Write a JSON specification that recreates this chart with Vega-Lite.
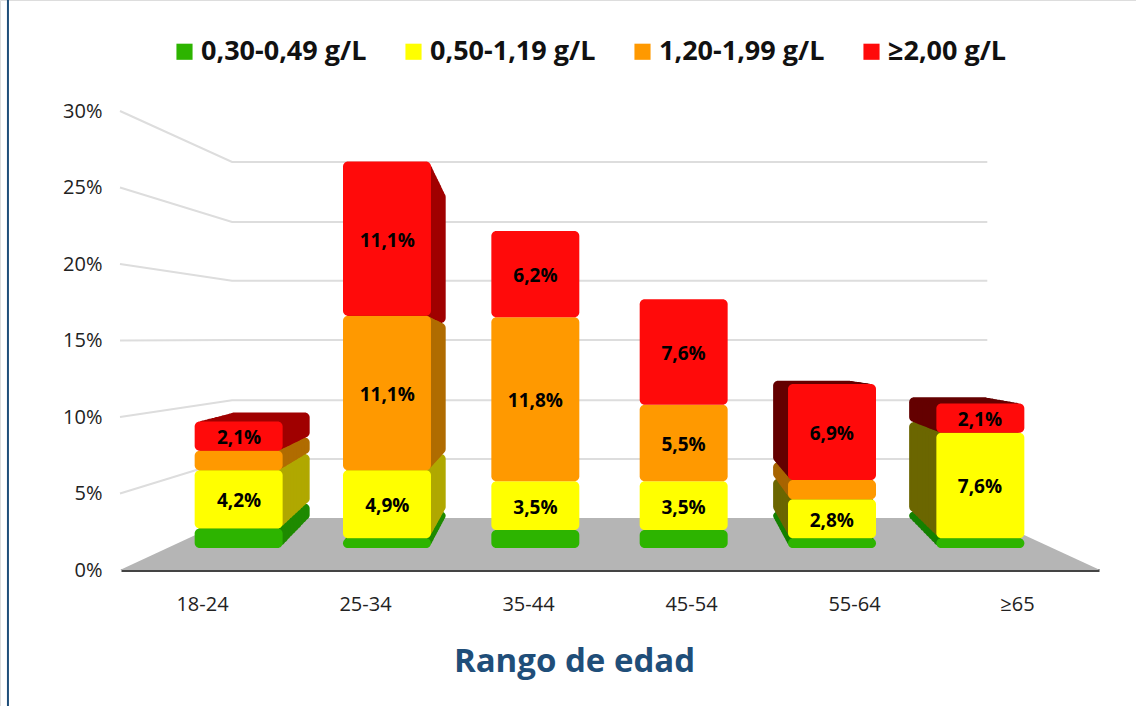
{
"$schema":"https://vega.github.io/schema/vega-lite/v6.json",
"width":1136,"height":706,"autosize":"none","padding":0,"background":"white",
"data":{"name":"bars","values":[
{"age":"18-24","range":"0,30-0,49 g/L","idx":1,"value":1.4,"side":"right"},
{"age":"18-24","range":"0,50-1,19 g/L","idx":2,"value":4.2,"side":"right"},
{"age":"18-24","range":"1,20-1,99 g/L","idx":3,"value":1.4,"side":"right"},
{"age":"18-24","range":"≥2,00 g/L","idx":4,"value":2.1,"side":"right"},
{"age":"25-34","range":"0,30-0,49 g/L","idx":1,"value":0.7,"side":"right"},
{"age":"25-34","range":"0,50-1,19 g/L","idx":2,"value":4.9,"side":"right"},
{"age":"25-34","range":"1,20-1,99 g/L","idx":3,"value":11.1,"side":"right"},
{"age":"25-34","range":"≥2,00 g/L","idx":4,"value":11.1,"side":"right"},
{"age":"35-44","range":"0,30-0,49 g/L","idx":1,"value":1.3,"side":"none"},
{"age":"35-44","range":"0,50-1,19 g/L","idx":2,"value":3.5,"side":"none"},
{"age":"35-44","range":"1,20-1,99 g/L","idx":3,"value":11.8,"side":"none"},
{"age":"35-44","range":"≥2,00 g/L","idx":4,"value":6.2,"side":"none"},
{"age":"45-54","range":"0,30-0,49 g/L","idx":1,"value":1.3,"side":"none"},
{"age":"45-54","range":"0,50-1,19 g/L","idx":2,"value":3.5,"side":"none"},
{"age":"45-54","range":"1,20-1,99 g/L","idx":3,"value":5.5,"side":"none"},
{"age":"45-54","range":"≥2,00 g/L","idx":4,"value":7.6,"side":"none"},
{"age":"55-64","range":"0,30-0,49 g/L","idx":1,"value":0.7,"side":"left"},
{"age":"55-64","range":"0,50-1,19 g/L","idx":2,"value":2.8,"side":"left"},
{"age":"55-64","range":"1,20-1,99 g/L","idx":3,"value":1.4,"side":"left"},
{"age":"55-64","range":"≥2,00 g/L","idx":4,"value":6.9,"side":"left"},
{"age":"≥65","range":"0,30-0,49 g/L","idx":1,"value":0.7,"side":"left"},
{"age":"≥65","range":"0,50-1,19 g/L","idx":2,"value":7.6,"side":"left"},
{"age":"≥65","range":"≥2,00 g/L","idx":4,"value":2.1,"side":"left"}
]},
"transform":[
 {"stack":"value","groupby":["age"],"sort":[{"field":"idx"}],"as":["y0","y1"]},
 {"calculate":"(datum.y0+datum.y1)/2","as":"mid"},
 {"calculate":"datum.range+'|'+datum.side","as":"key"}
],
"datasets":{
"floor":[{"pos":0,"v":0},{"pos":0.686,"v":3.4},{"pos":5.31,"v":3.4},{"pos":6,"v":0}],
"walls":[
{"p":30,"pos":0,"v":30},{"p":30,"pos":0.686,"v":26.67},{"p":30,"pos":5.31,"v":26.67},
{"p":25,"pos":0,"v":25},{"p":25,"pos":0.686,"v":22.75},{"p":25,"pos":5.31,"v":22.75},
{"p":20,"pos":0,"v":20},{"p":20,"pos":0.686,"v":18.9},{"p":20,"pos":5.31,"v":18.9},
{"p":15,"pos":0,"v":15},{"p":15,"pos":0.686,"v":15.03},{"p":15,"pos":5.31,"v":15.03},
{"p":10,"pos":0,"v":10},{"p":10,"pos":0.686,"v":11.1},{"p":10,"pos":5.31,"v":11.1},
{"p":5,"pos":0,"v":5},{"p":5,"pos":0.686,"v":7.25},{"p":5,"pos":5.31,"v":7.25}
]
},
"resolve":{"scale":{"x":"independent","y":"independent"},"axis":{"x":"independent","y":"independent"}},
"layer":[
{"data":{"name":"floor"},"mark":{"type":"area","color":"#B5B5B5"},
 "encoding":{"x":{"field":"pos","type":"quantitative","axis":null,"scale":{"domain":[0,6],"range":[120,1100]}},
 "y":{"field":"v","type":"quantitative","axis":null,"stack":null,"scale":{"domain":[0,30],"range":[570,111]}},"y2":{"datum":0}}},
{"data":{"name":"walls"},"mark":{"type":"line","color":"#DDDDDD","strokeWidth":2},
 "encoding":{"x":{"field":"pos","type":"quantitative","axis":null,"scale":{"domain":[0,6],"range":[120,1100]}},
 "y":{"field":"v","type":"quantitative","axis":null,"scale":{"domain":[0,30],"range":[570,111]}},"detail":{"field":"p"}}},
{"data":{"values":[{"pos":-0.686}]},"mark":{"type":"rule","color":"#1F4E79","strokeWidth":2},
 "encoding":{"x":{"field":"pos","type":"quantitative","axis":null,"scale":{"domain":[0,6],"range":[120,1100]}}}},
{"mark":{"type":"bar","opacity":0},
 "encoding":{
 "x":{"field":"age","type":"nominal","sort":null,"scale":{"range":[121,1099],"paddingInner":0,"paddingOuter":0},
  "axis":{"orient":"bottom","offset":-136,"ticks":false,"domainColor":"#444444","domainWidth":3,"labelAngle":0,"labelFont":"Open Sans","labelFontSize":20,"labelColor":"#222222","labelPadding":24,
   "title":"Rango de edad","titleFont":"Open Sans","titleFontSize":33,"titleFontWeight":"bold","titleColor":"#1F4E79","titleX":574,"titleY":101,"titleAlign":"center","titleBaseline":"alphabetic"}},
 "y":{"field":"value","type":"quantitative","stack":null,"scale":{"domain":[0,30],"range":[570,111]},
  "axis":{"orient":"left","offset":-120,"values":[0,5,10,15,20,25,30],"labelExpr":"datum.value+'%'","ticks":false,"domain":false,"grid":false,"title":null,"labelFont":"Open Sans","labelFontSize":20,"labelColor":"#222222","labelPadding":18}}}},
{"transform":[{"filter":"datum.side!='none'"}],"mark":{"type":"bar","cornerRadius":5},"encoding":{"x":{"field":"age","sort":null,"axis":null,"scale":{"domain":["18-24","25-34","35-44","45-54","55-64","≥65"],"range":[201.8,1017],"paddingInner":0.407,"paddingOuter":0.2}},"y":{"field":"y0","type":"quantitative","axis":null,"scale":{"domain":[0,30],"range":[520,166]}},"y2":{"field":"y1"},"color":{"field":"key"}}},
{"transform":[{"filter":"datum.side!='none'"}],"mark":{"type":"bar","cornerRadius":5},"encoding":{"x":{"field":"age","sort":null,"axis":null,"scale":{"domain":["18-24","25-34","35-44","45-54","55-64","≥65"],"range":[198.1,1020.7],"paddingInner":0.407,"paddingOuter":0.2}},"y":{"field":"y0","type":"quantitative","axis":null,"scale":{"domain":[0,30],"range":[522.8,162.5]}},"y2":{"field":"y1"},"color":{"field":"key"}}},
{"transform":[{"filter":"datum.side!='none'"}],"mark":{"type":"bar","cornerRadius":5},"encoding":{"x":{"field":"age","sort":null,"axis":null,"scale":{"domain":["18-24","25-34","35-44","45-54","55-64","≥65"],"range":[194.4,1024.4],"paddingInner":0.407,"paddingOuter":0.2}},"y":{"field":"y0","type":"quantitative","axis":null,"scale":{"domain":[0,30],"range":[525.6,159]}},"y2":{"field":"y1"},"color":{"field":"key"}}},
{"transform":[{"filter":"datum.side!='none'"}],"mark":{"type":"bar","cornerRadius":5},"encoding":{"x":{"field":"age","sort":null,"axis":null,"scale":{"domain":["18-24","25-34","35-44","45-54","55-64","≥65"],"range":[190.8,1028.1],"paddingInner":0.407,"paddingOuter":0.2}},"y":{"field":"y0","type":"quantitative","axis":null,"scale":{"domain":[0,30],"range":[528.4,155.5]}},"y2":{"field":"y1"},"color":{"field":"key"}}},
{"transform":[{"filter":"datum.side!='none'"}],"mark":{"type":"bar","cornerRadius":5},"encoding":{"x":{"field":"age","sort":null,"axis":null,"scale":{"domain":["18-24","25-34","35-44","45-54","55-64","≥65"],"range":[187.1,1031.8],"paddingInner":0.407,"paddingOuter":0.2}},"y":{"field":"y0","type":"quantitative","axis":null,"scale":{"domain":[0,30],"range":[531.2,152]}},"y2":{"field":"y1"},"color":{"field":"key"}}},
{"transform":[{"filter":"datum.side!='none'"}],"mark":{"type":"bar","cornerRadius":5},"encoding":{"x":{"field":"age","sort":null,"axis":null,"scale":{"domain":["18-24","25-34","35-44","45-54","55-64","≥65"],"range":[183.4,1035.5],"paddingInner":0.407,"paddingOuter":0.2}},"y":{"field":"y0","type":"quantitative","axis":null,"scale":{"domain":[0,30],"range":[534,148.5]}},"y2":{"field":"y1"},"color":{"field":"key"}}},
{"transform":[{"filter":"datum.side!='none'"}],"mark":{"type":"bar","cornerRadius":5},"encoding":{"x":{"field":"age","sort":null,"axis":null,"scale":{"domain":["18-24","25-34","35-44","45-54","55-64","≥65"],"range":[179.7,1039.2],"paddingInner":0.407,"paddingOuter":0.2}},"y":{"field":"y0","type":"quantitative","axis":null,"scale":{"domain":[0,30],"range":[536.8,145]}},"y2":{"field":"y1"},"color":{"field":"key"}}},
{"transform":[{"filter":"datum.side!='none'"}],"mark":{"type":"bar","cornerRadius":5},"encoding":{"x":{"field":"age","sort":null,"axis":null,"scale":{"domain":["18-24","25-34","35-44","45-54","55-64","≥65"],"range":[176,1042.9],"paddingInner":0.407,"paddingOuter":0.2}},"y":{"field":"y0","type":"quantitative","axis":null,"scale":{"domain":[0,30],"range":[539.6,141.5]}},"y2":{"field":"y1"},"color":{"field":"key"}}},
{"transform":[{"filter":"datum.side!='none'"}],"mark":{"type":"bar","cornerRadius":5},"encoding":{"x":{"field":"age","sort":null,"axis":null,"scale":{"domain":["18-24","25-34","35-44","45-54","55-64","≥65"],"range":[172.4,1046.6],"paddingInner":0.407,"paddingOuter":0.2}},"y":{"field":"y0","type":"quantitative","axis":null,"scale":{"domain":[0,30],"range":[542.4,138]}},"y2":{"field":"y1"},"color":{"field":"key"}}},
{"transform":[{"filter":"datum.side!='none'"}],"mark":{"type":"bar","cornerRadius":5},"encoding":{"x":{"field":"age","sort":null,"axis":null,"scale":{"domain":["18-24","25-34","35-44","45-54","55-64","≥65"],"range":[168.7,1050.3],"paddingInner":0.407,"paddingOuter":0.2}},"y":{"field":"y0","type":"quantitative","axis":null,"scale":{"domain":[0,30],"range":[545.2,134.5]}},"y2":{"field":"y1"},"color":{"field":"key"}}},
{"mark":{"type":"bar","cornerRadius":5},
 "encoding":{"x":{"field":"age","sort":null,"axis":null,"scale":{"domain":["18-24","25-34","35-44","45-54","55-64","≥65"],"range":[165,1054],"paddingInner":0.407,"paddingOuter":0.2}},
 "y":{"field":"y0","type":"quantitative","axis":null,"scale":{"domain":[0,30],"range":[548,131]}},"y2":{"field":"y1"},
 "color":{"field":"range","sort":null,
  "scale":{"domain":["0,30-0,49 g/L","0,50-1,19 g/L","1,20-1,99 g/L","≥2,00 g/L","0,30-0,49 g/L|right","0,50-1,19 g/L|right","1,20-1,99 g/L|right","≥2,00 g/L|right","0,30-0,49 g/L|left","0,50-1,19 g/L|left","1,20-1,99 g/L|left","≥2,00 g/L|left"],
  "range":["#2DB400","#FFFF00","#FF9900","#FF0A0A","#1E8A00","#B0A800","#B06C00","#A00000","#148000","#6B6600","#A86400","#640000"]},
  "legend":{"orient":"none","legendX":171,"legendY":38,"direction":"horizontal","columns":4,"title":null,"values":["0,30-0,49 g/L","0,50-1,19 g/L","1,20-1,99 g/L","≥2,00 g/L"],"symbolType":"square","symbolSize":260,"symbolStrokeWidth":0,"symbolOpacity":1,"labelFont":"Open Sans","labelFontSize":27,"labelFontWeight":"bold","labelColor":"#111111","labelOffset":3,"labelLimit":400,"columnPadding":33}}}},
{"transform":[
 {"filter":"datum.value>=2"},
 {"calculate":"replace(format(datum.value,'.1f'),'.',',')+'%'","as":"lab"}],
 "mark":{"type":"text","font":"Open Sans","fontWeight":"bold","fontSize":19,"color":"#000000","dy":2},
 "encoding":{"x":{"field":"age","sort":null,"axis":null,"scale":{"domain":["18-24","25-34","35-44","45-54","55-64","≥65"],"range":[165,1054],"paddingInner":0.407,"paddingOuter":0.2}},
 "y":{"field":"mid","type":"quantitative","axis":null,"scale":{"domain":[0,30],"range":[548,131]}},
 "text":{"field":"lab"}}}
]
}
